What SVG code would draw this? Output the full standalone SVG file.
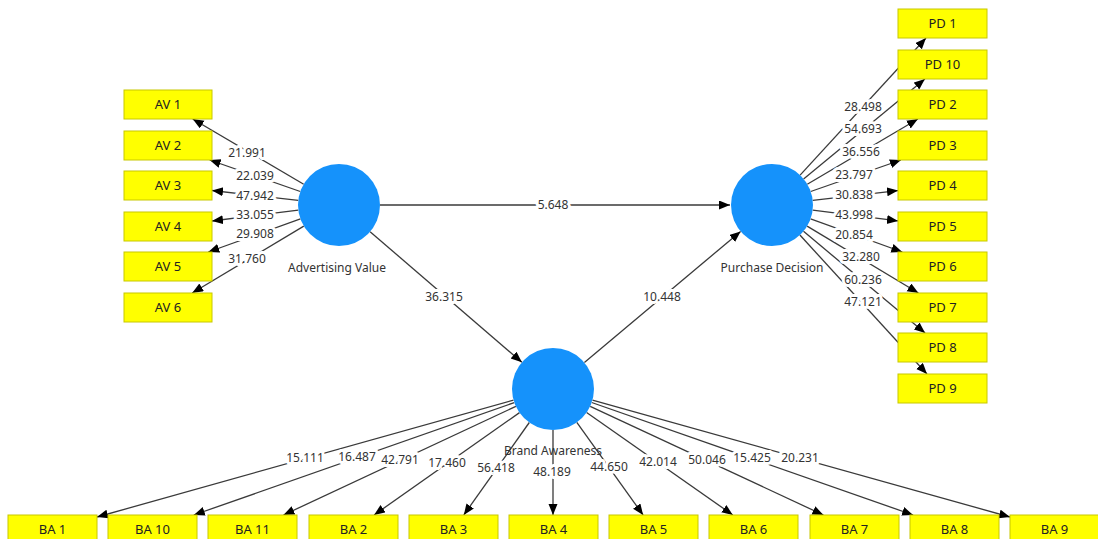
<svg xmlns="http://www.w3.org/2000/svg" width="1098" height="539" viewBox="0 0 1098 539">
<style>
.box{fill:#ffff00;stroke:#c8c800;stroke-width:1}
.bt{font-family:"Noto Sans","Liberation Sans",sans-serif;font-size:13px;fill:#222;text-anchor:middle}
.lv{fill:#1592fb}
.nl{font-family:"Noto Sans","Liberation Sans",sans-serif;font-size:12px;fill:#333;text-anchor:middle}
.c line{stroke:#3a3a3a;stroke-width:1.3;marker-end:url(#ah)}
.lb text{font-family:"Noto Sans","Liberation Sans",sans-serif;font-size:12px;fill:#333;text-anchor:middle;stroke:#fff;stroke-width:6;stroke-linejoin:round;paint-order:stroke}
</style>
<defs>
<marker id="ah" markerUnits="userSpaceOnUse" markerWidth="12" markerHeight="10" refX="11" refY="4.5" orient="auto">
<path d="M0,0 L11,4.5 L0,9 z" fill="#000"/>
</marker>
</defs>
<rect width="1098" height="539" fill="#fff"/>
<g class="c" id="connectors">
<line x1="380" y1="205" x2="730" y2="205"/>
<line x1="370.1" y1="231.7" x2="521.9" y2="362.3"/>
<line x1="584.4" y1="362.6" x2="740.6" y2="231.4"/>
<line x1="303.7" y1="184.2" x2="192.7" y2="119"/>
<line x1="300.3" y1="191.5" x2="209.7" y2="160"/>
<line x1="298.3" y1="200.4" x2="212" y2="190.5"/>
<line x1="298.3" y1="210.1" x2="212" y2="221"/>
<line x1="300.4" y1="218.9" x2="208.3" y2="252"/>
<line x1="303.8" y1="226.1" x2="192.2" y2="293"/>
<line x1="800.1" y1="175.1" x2="926" y2="38"/>
<line x1="803.6" y1="178.9" x2="924.9" y2="79"/>
<line x1="807.3" y1="184.2" x2="917.9" y2="119"/>
<line x1="810.7" y1="191.5" x2="900.9" y2="160"/>
<line x1="812.7" y1="200.3" x2="898" y2="190.6"/>
<line x1="812.7" y1="210.1" x2="898" y2="220.9"/>
<line x1="810.6" y1="218.9" x2="902.3" y2="252"/>
<line x1="807.1" y1="226.1" x2="918.4" y2="293"/>
<line x1="803.5" y1="231.3" x2="925.1" y2="333"/>
<line x1="799.9" y1="235" x2="927" y2="374"/>
<line x1="513.5" y1="400.1" x2="97" y2="517"/>
<line x1="514.3" y1="402.6" x2="193.8" y2="515"/>
<line x1="515.9" y1="406.4" x2="283.5" y2="515"/>
<line x1="519.5" y1="412.6" x2="374.1" y2="515"/>
<line x1="529.3" y1="422.5" x2="463.8" y2="515"/>
<line x1="553" y1="430" x2="553" y2="515"/>
<line x1="576.8" y1="422.3" x2="643.1" y2="515"/>
<line x1="586.6" y1="412.5" x2="732.8" y2="515"/>
<line x1="590.2" y1="406.3" x2="823.4" y2="515"/>
<line x1="591.7" y1="402.5" x2="913.1" y2="515"/>
<line x1="592.5" y1="400.1" x2="1010" y2="517"/>
</g>
<g class="lb" id="labels">
<text x="553" y="209">5.648</text>
<text x="444" y="301">36.315</text>
<text x="662" y="301">10.448</text>
<text x="247" y="157">21.991</text>
<text x="255" y="180">22.039</text>
<text x="255" y="200">47.942</text>
<text x="255" y="219">33.055</text>
<text x="255" y="238">29.908</text>
<text x="247" y="263">31.760</text>
<text x="863" y="111">28.498</text>
<text x="863" y="133">54.693</text>
<text x="861" y="156">36.556</text>
<text x="854" y="179">23.797</text>
<text x="854" y="199">30.838</text>
<text x="854" y="219">43.998</text>
<text x="854" y="239">20.854</text>
<text x="861" y="261">32.280</text>
<text x="863" y="284">60.236</text>
<text x="863" y="306">47.121</text>
<text x="305" y="462">15.111</text>
<text x="357" y="461">16.487</text>
<text x="400" y="464">42.791</text>
<text x="447" y="467">17.460</text>
<text x="496" y="472">56.418</text>
<text x="552" y="476">48.189</text>
<text x="609" y="471">44.650</text>
<text x="658" y="466">42.014</text>
<text x="707" y="464">50.046</text>
<text x="752" y="462">15.425</text>
<text x="800" y="462">20.231</text>
</g>
<g id="advertising-value"><circle class="lv" cx="339" cy="205" r="41"/><text class="nl" x="337" y="272">Advertising Value</text></g>
<g id="purchase-decision"><circle class="lv" cx="772" cy="205" r="41"/><text class="nl" x="772" y="272">Purchase Decision</text></g>
<g id="brand-awareness"><circle class="lv" cx="553" cy="389" r="41"/><text class="nl" x="553" y="455">Brand Awareness</text></g>
<g id="av1"><rect class="box" x="124" y="90" width="88" height="29"/><text class="bt" x="168" y="109">AV 1</text></g>
<g id="av2"><rect class="box" x="124" y="131" width="88" height="29"/><text class="bt" x="168" y="150">AV 2</text></g>
<g id="av3"><rect class="box" x="124" y="171" width="88" height="29"/><text class="bt" x="168" y="190">AV 3</text></g>
<g id="av4"><rect class="box" x="124" y="212" width="88" height="29"/><text class="bt" x="168" y="231">AV 4</text></g>
<g id="av5"><rect class="box" x="124" y="252" width="88" height="29"/><text class="bt" x="168" y="271">AV 5</text></g>
<g id="av6"><rect class="box" x="124" y="293" width="88" height="29"/><text class="bt" x="168" y="312">AV 6</text></g>
<g id="pd1"><rect class="box" x="898" y="9" width="89" height="29"/><text class="bt" x="942.5" y="28">PD 1</text></g>
<g id="pd10"><rect class="box" x="898" y="50" width="89" height="29"/><text class="bt" x="942.5" y="69">PD 10</text></g>
<g id="pd2"><rect class="box" x="898" y="90" width="89" height="29"/><text class="bt" x="942.5" y="109">PD 2</text></g>
<g id="pd3"><rect class="box" x="898" y="131" width="89" height="29"/><text class="bt" x="942.5" y="150">PD 3</text></g>
<g id="pd4"><rect class="box" x="898" y="171" width="89" height="29"/><text class="bt" x="942.5" y="190">PD 4</text></g>
<g id="pd5"><rect class="box" x="898" y="212" width="89" height="29"/><text class="bt" x="942.5" y="231">PD 5</text></g>
<g id="pd6"><rect class="box" x="898" y="252" width="89" height="29"/><text class="bt" x="942.5" y="271">PD 6</text></g>
<g id="pd7"><rect class="box" x="898" y="293" width="89" height="29"/><text class="bt" x="942.5" y="312">PD 7</text></g>
<g id="pd8"><rect class="box" x="898" y="333" width="89" height="29"/><text class="bt" x="942.5" y="352">PD 8</text></g>
<g id="pd9"><rect class="box" x="898" y="374" width="89" height="29"/><text class="bt" x="942.5" y="393">PD 9</text></g>
<g id="ba1"><rect class="box" x="8" y="515" width="89" height="29"/><text class="bt" x="52.5" y="534">BA 1</text></g>
<g id="ba10"><rect class="box" x="108" y="515" width="89" height="29"/><text class="bt" x="152.5" y="534">BA 10</text></g>
<g id="ba11"><rect class="box" x="208" y="515" width="89" height="29"/><text class="bt" x="252.5" y="534">BA 11</text></g>
<g id="ba2"><rect class="box" x="309" y="515" width="89" height="29"/><text class="bt" x="353.5" y="534">BA 2</text></g>
<g id="ba3"><rect class="box" x="409" y="515" width="89" height="29"/><text class="bt" x="453.5" y="534">BA 3</text></g>
<g id="ba4"><rect class="box" x="509" y="515" width="89" height="29"/><text class="bt" x="553.5" y="534">BA 4</text></g>
<g id="ba5"><rect class="box" x="609" y="515" width="89" height="29"/><text class="bt" x="653.5" y="534">BA 5</text></g>
<g id="ba6"><rect class="box" x="709" y="515" width="89" height="29"/><text class="bt" x="753.5" y="534">BA 6</text></g>
<g id="ba7"><rect class="box" x="810" y="515" width="89" height="29"/><text class="bt" x="854.5" y="534">BA 7</text></g>
<g id="ba8"><rect class="box" x="910" y="515" width="89" height="29"/><text class="bt" x="954.5" y="534">BA 8</text></g>
<g id="ba9"><rect class="box" x="1010" y="515" width="89" height="29"/><text class="bt" x="1054.5" y="534">BA 9</text></g>
</svg>
